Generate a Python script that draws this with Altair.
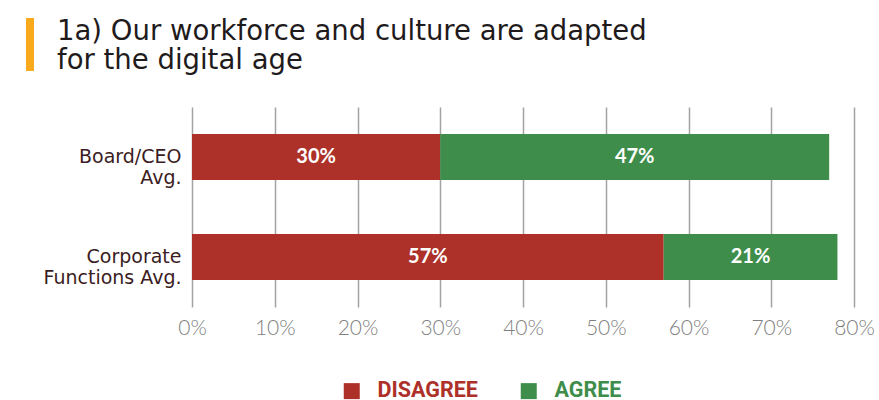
import altair as alt
import pandas as pd

groups = ["Board/CEO\nAvg.", "Corporate\nFunctions Avg."]
responses = ["DISAGREE", "AGREE"]
disagree = [30, 57]
agree = [47, 21]
x_ticks = [0, 10, 20, 30, 40, 50, 60, 70, 80]
title_lines = ["1a) Our workforce and culture are adapted", "for the digital age"]

RED = "#ad3129"
GREEN = "#3e8d4b"
ORANGE = "#f8a91c"

rows = []
for g, d, a in zip(groups, disagree, agree):
    rows.append({"group": g, "response": "DISAGREE", "value": d, "order": 0})
    rows.append({"group": g, "response": "AGREE", "value": a, "order": 1})
df = pd.DataFrame(rows)

base = alt.Chart(df).transform_window(
    cum="sum(value)", groupby=["group"], sort=[alt.SortField("order")], frame=[None, 0]
).transform_calculate(
    start="datum.cum - datum.value",
    mid="datum.cum - datum.value / 2",
    label="datum.value + '%'",
)

x_enc = alt.X(
    "start:Q",
    scale=alt.Scale(domain=[0, 80], nice=False, zero=True),
    axis=alt.Axis(
        values=x_ticks,
        labelExpr="datum.value + '%'",
        grid=True,
        gridColor="#a3a3a3",
        gridWidth=1.5,
        ticks=False,
        domain=False,
        labelFlush=False,
        labelFont="Lato",
        labelFontWeight=300,
        labelFontSize=21,
        labelColor="#7f7f7f",
        labelPadding=10,
        title=None,
    ),
)
y_enc = alt.Y(
    "group:N",
    sort=groups,
    scale=alt.Scale(paddingInner=0, paddingOuter=0),
    axis=alt.Axis(
        labelExpr="split(datum.label, '\\n')",
        labelFont="DejaVu Sans",
        labelFontSize=19,
        labelColor="#3b1c22",
        labelLineHeight=21,
        labelPadding=11,
        labelAlign="right",
        ticks=False,
        domain=False,
        grid=False,
        title=None,
    ),
)

bars = base.mark_bar(size=46).encode(
    x=x_enc,
    x2="cum:Q",
    y=y_enc,
    color=alt.Color(
        "response:N",
        scale=alt.Scale(domain=responses, range=[RED, GREEN]),
        legend=alt.Legend(
            title=None,
            orient="none",
            legendX=149,
            legendY=273,
            direction="horizontal",
            symbolType="square",
            symbolSize=256,
            symbolStrokeWidth=0,
            labelFont="Roboto",
            labelFontSize=21.5,
            labelFontWeight="bold",
            labelColor={"expr": "datum.label == 'DISAGREE' ? '%s' : '%s'" % (RED, GREEN)},
            labelOffset=15,
            columnPadding=40,
        ),
    ),
)

texts = base.mark_text(
    color="white", font="Lato", fontSize=20, fontWeight="bold"
).encode(
    x="mid:Q",
    y=alt.Y("group:N", sort=groups),
    text="label:N",
)

accent = alt.Chart(pd.DataFrame({"a": [0]})).mark_rule(
    color=ORANGE, strokeWidth=8
).encode(
    x=alt.value(-162),
    y=alt.value(-89),
    y2=alt.value(-36),
)

chart = alt.layer(bars, texts, accent).properties(
    width=662,
    height=200,
    title=alt.Title(
        text=title_lines,
        anchor="start",
        frame="group",
        dx=-135,
        offset=-60,
        font="DejaVu Sans",
        fontSize=27.5,
        fontWeight="normal",
        color="#1f1b1c",
        lineHeight=29,
    ),
    autosize=alt.AutoSizeParams(type="none"),
    padding={"left": 192, "top": 107, "right": 25, "bottom": 93},
).configure_view(stroke=None)

chart.save("out.html", embed_options={"renderer": "svg", "actions": False})
